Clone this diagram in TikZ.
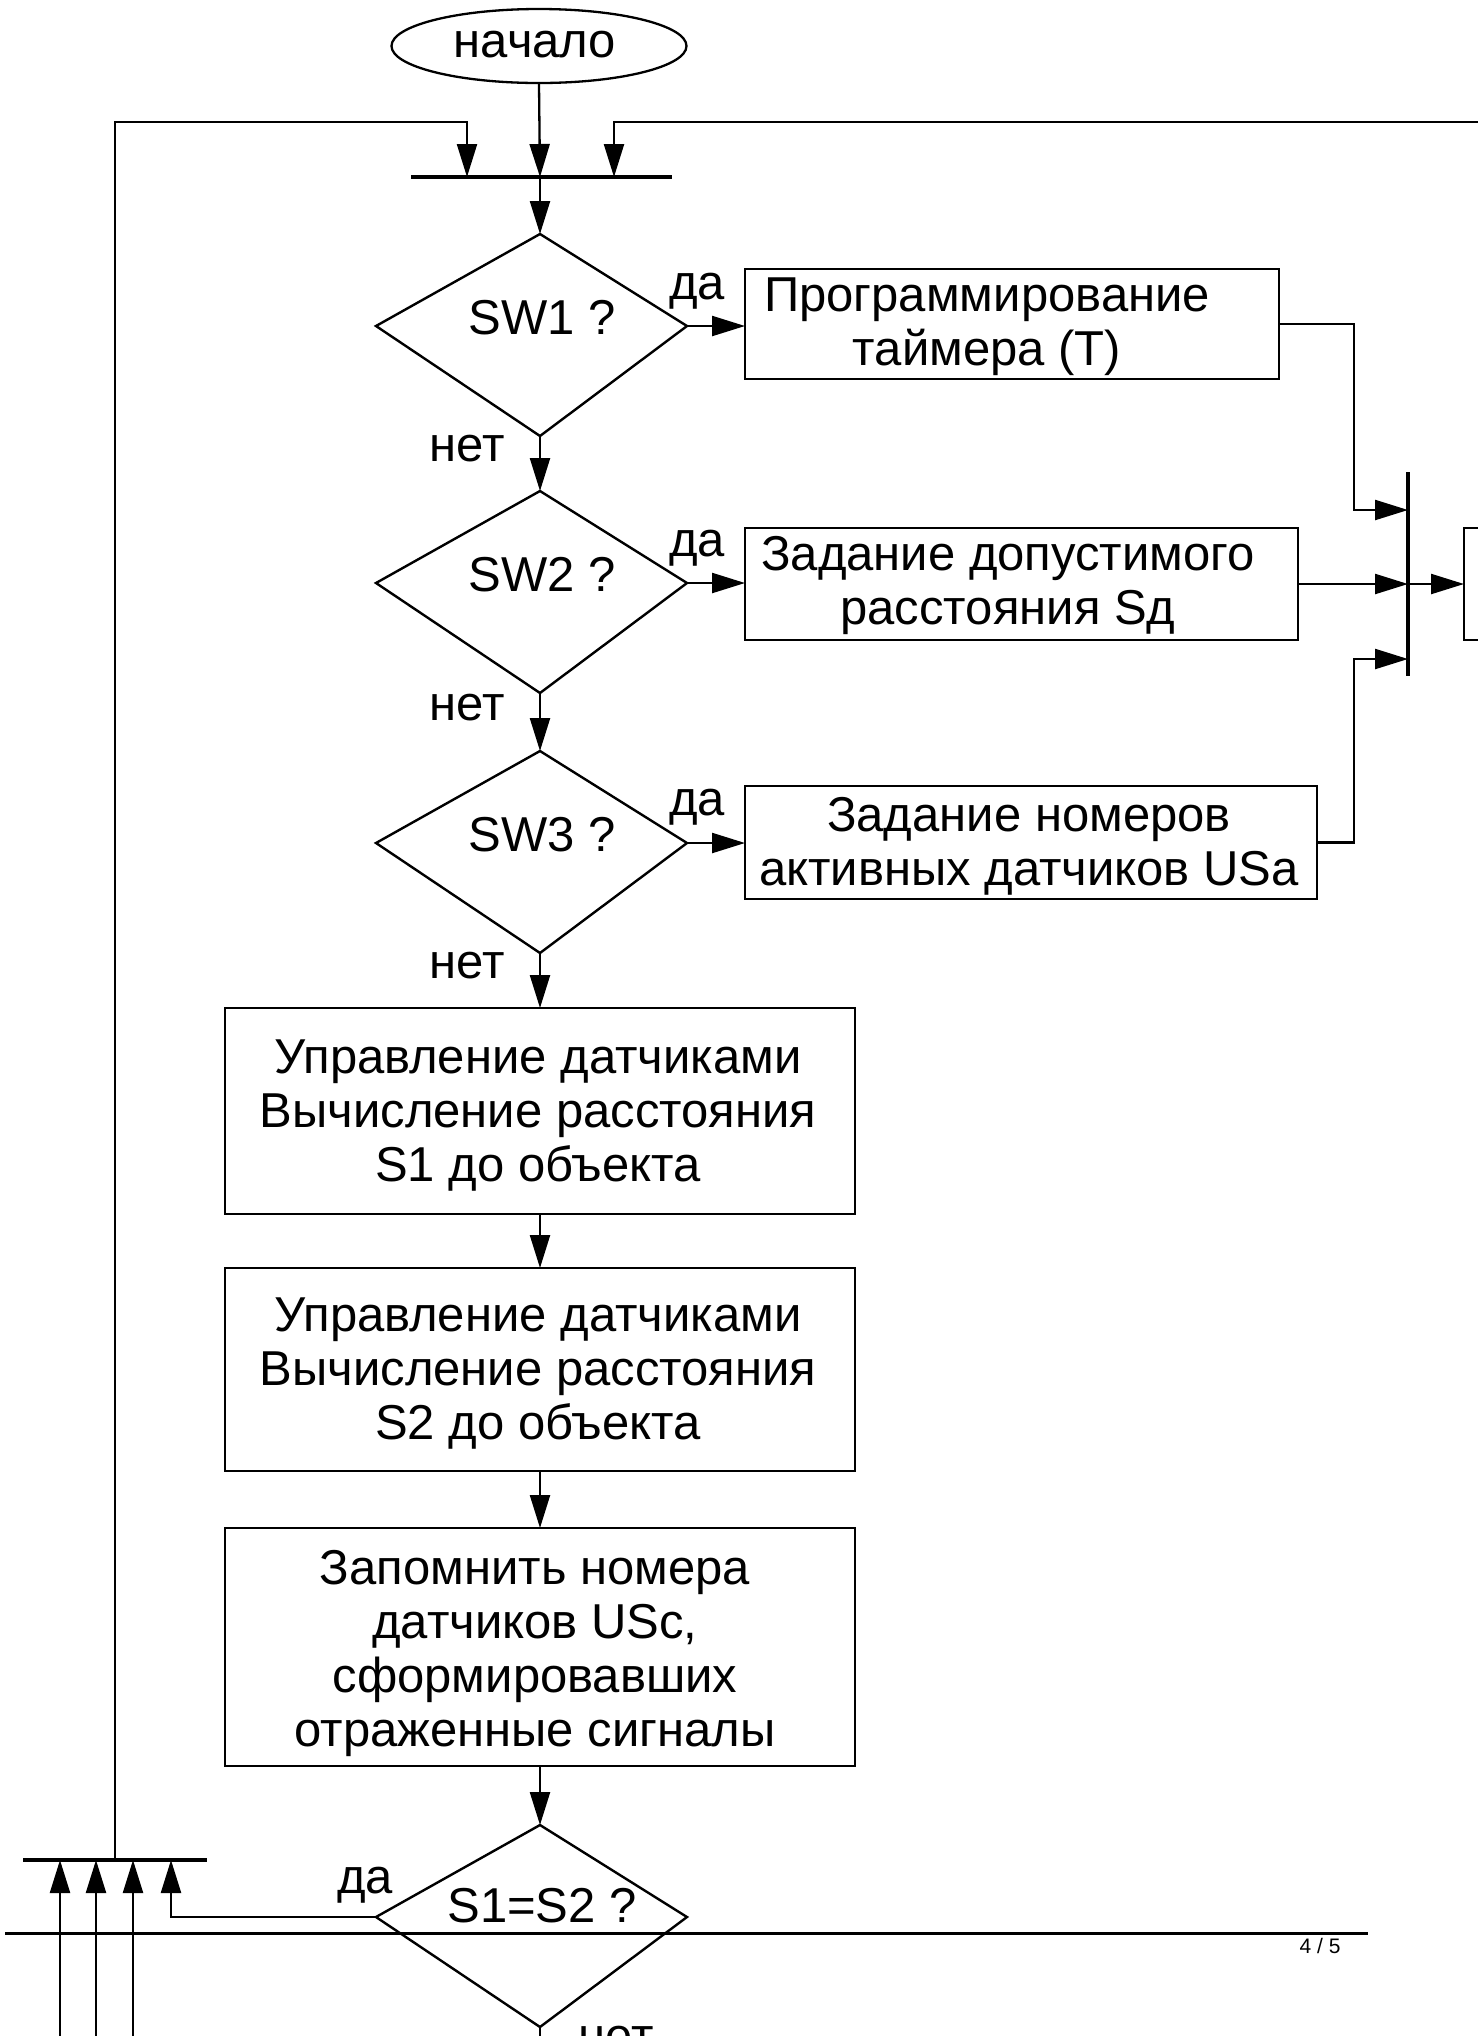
\documentclass[tikz,border=0pt]{standalone}
\usepackage{fontspec}
\setmainfont{Liberation Sans}
\usetikzlibrary{arrows.meta,shapes.geometric,calc}
\newcommand\flowdmd[2]{%
  \coordinate (#1t) at (540,#2-92);
  \coordinate (#1r) at (687,#2);
  \coordinate (#1b) at (540,#2+110);
  \coordinate (#1l) at (376,#2);
  \draw[dmd] (#1t) -- (#1r) -- (#1b) -- (#1l) -- cycle;}
\begin{document}
\begin{tikzpicture}[x=0.5pt,y=-0.5pt,
  conn/.style={line width=1.15pt},
  arr/.style={conn,-{Triangle[length=16.5pt,width=10pt]}},
  boxn/.style={draw,line width=1.4pt,rectangle,inner sep=0pt,outer sep=0pt},
  txt/.style={font=\fontsize{24.5pt}{27pt}\selectfont,align=center,inner sep=0pt},
  lbl/.style={font=\fontsize{24.5pt}{27pt}\selectfont,inner sep=0pt,anchor=base},
  barln/.style={line width=1.6pt},
  dmd/.style={line width=1.2pt,line join=miter}]
\useasboundingbox (0,0) rectangle (1478,2036);
\clip (0,0) rectangle (1478,2036);
\fill[white] (0,0) rectangle (1478,2036);

% start
\node[draw,ellipse,line width=1.15pt,minimum width=147.5pt,minimum height=37pt,inner sep=0pt] (start) at (539,46) {};
\node[lbl] (startt) at (535,57) {начало};

% top merge bar
\coordinate (tbA) at (411,177);
\coordinate (tbB) at (672,177);
\coordinate (tbL) at (467,177);
\coordinate (tbM) at (540,177);
\coordinate (tbR) at (614,177);
\draw[barln] (tbA) -- (tbB);

% bottom-left merge bar
\coordinate (lbA) at (23,1860);
\coordinate (lbB) at (207,1860);
\coordinate (lbU) at (115,1860);
\coordinate (lb1) at (60,1860);
\coordinate (lb2) at (96,1860);
\coordinate (lb3) at (133,1860);
\coordinate (lb4) at (171,1860);
\draw[barln] (lbA) -- (lbB);

% right merge bar
\coordinate (rbA) at (1408,472);
\coordinate (rbB) at (1408,676);
\coordinate (rb1) at (1408,510);
\coordinate (rb2) at (1408,584);
\coordinate (rb3) at (1408,659);
\draw[barln] (rbA) -- (rbB);

% diamonds
\flowdmd{d1}{326}
\flowdmd{d2}{583}
\flowdmd{d3}{843}
\flowdmd{d4}{1917}
\node[lbl] (q1) at (542,334) {SW1 ?};
\node[lbl] (q2) at (542,591) {SW2 ?};
\node[lbl] (q3) at (542,851) {SW3 ?};
\node[lbl] (q4) at (542,1922) {S1=S2 ?};

% boxes
\node[boxn,minimum width=267pt,minimum height=55pt] (b1) at (1012,324) {};
\node[txt] (t1) at (987,327) {Программирование\\таймера (T)};
\node[boxn,minimum width=276.5pt,minimum height=56pt] (b2) at (1021.5,584) {};
\node[txt] (t2) at (1008,585) {Задание допустимого\\расстояния Sд};
\node[boxn,minimum width=286pt,minimum height=56.5pt] (b3) at (1031,842.5) {};
\node[txt] (t3) at (1029,846) {Задание номеров\\активных датчиков USa};
\node[boxn,anchor=west,minimum width=70pt,minimum height=56pt] (rbox) at (1464,584) {};

\node[boxn,minimum width=315pt,minimum height=103pt] (b4) at (540,1111) {};
\node[txt] (t4) at (538,1116) {Управление датчиками\\Вычисление расстояния\\S1 до объекта};
\node[boxn,minimum width=315pt,minimum height=101.5pt] (b5) at (540,1369.5) {};
\node[txt] (t5) at (538,1374) {Управление датчиками\\Вычисление расстояния\\S2 до объекта};
\node[boxn,minimum width=315pt,minimum height=119pt] (b6) at (540,1647) {};
\node[txt] (t6) at (535,1653) {Запомнить номера\\датчиков USc,\\сформировавших\\отраженные сигналы};

% labels
\node[lbl] (y1) at (697,299) {да};
\node[lbl] (y2) at (697,556) {да};
\node[lbl] (y3) at (697,815) {да};
\node[lbl] (y4) at (365,1893) {да};
\node[lbl] (n1) at (467,461) {нет};
\node[lbl] (n2) at (467,720) {нет};
\node[lbl] (n3) at (467,978) {нет};
\node[lbl] (n4) at (616,2052) {нет};

% connectors
\draw[arr] (start.south) -- (tbM);
\coordinate (rEdge) at (1490,122);
\draw[arr] (lbU) -- (115,122) -| (tbL);
\draw[arr] (rEdge) -| (tbR);
\draw[arr] (tbM) -- (d1t);
\draw[arr] (d1b) -- (d2t);
\draw[arr] (d2b) -- (d3t);
\draw[arr] (d3b) -- (b4.north);
\draw[arr] (b4.south) -- (b5.north);
\draw[arr] (b5.south) -- (b6.north);
\draw[arr] (b6.south) -- (d4t);

\draw[arr] (d1r) -- (b1.west |- d1r);
\draw[arr] (d2r) -- (b2.west |- d2r);
\draw[arr] (d3r) -- (b3.west |- d3r);

\draw[arr] (b1.east) -- (1354,324) |- (rb1);
\draw[arr] (b2.east) -- (rb2);
\draw[arr] (b3.east) -- (1354,842.5) |- (rb3);
\draw[arr] (rb2) -- (rbox.west);

\draw[arr] (d4l) -| (lb4);
\coordinate (e1) at (60,2050);
\coordinate (e2) at (96,2050);
\coordinate (e3) at (133,2050);
\coordinate (d4out) at (540,2050);
\draw[arr] (e1) -- (lb1);
\draw[arr] (e2) -- (lb2);
\draw[arr] (e3) -- (lb3);
\draw[conn] (d4b) -- (d4out);

% page footer
\coordinate (pgA) at (5,1933);
\coordinate (pgB) at (1368,1933);
\draw[line width=1.5pt] (pgA) -- (pgB);
\node[font=\fontsize{10.5pt}{12pt}\selectfont,inner sep=0pt] (pg) at (1320,1946) {4 / 5};
\end{tikzpicture}
\end{document}
